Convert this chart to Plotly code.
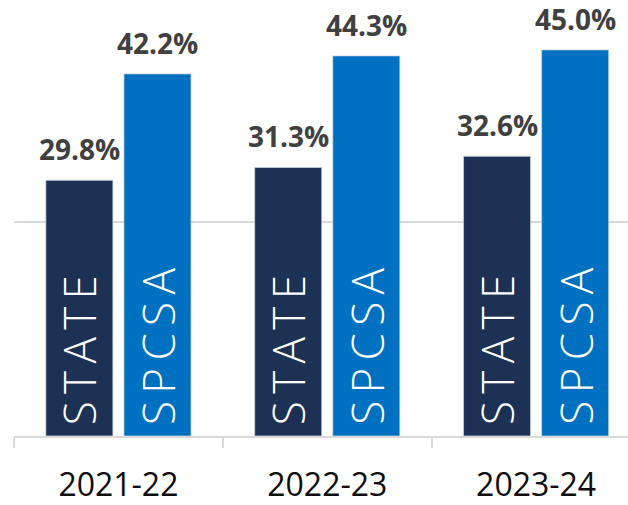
import plotly.graph_objects as go

categories = ["2021-22", "2022-23", "2023-24"]
series_names = ["STATE", "SPCSA"]
state_values = [29.8, 31.3, 32.6]
spcsa_values = [42.2, 44.3, 45.0]

colors = ["#1d3155", "#0070c0"]
offsets = [-0.187, 0.187]
bar_w = 0.321

fig = go.Figure()
xs = list(range(len(categories)))
for name, vals, col, off in zip(series_names, [state_values, spcsa_values], colors, offsets):
    fig.add_trace(go.Bar(
        x=xs, y=vals, name=name,
        offset=off - bar_w / 2, width=bar_w,
        marker=dict(color=col, line=dict(color="#c8d3e0", width=0.75)),
        hoverinfo="skip",
    ))
    for xi, v in zip(xs, vals):
        fig.add_annotation(
            x=xi + off, y=v, xref="x", yref="y",
            text=f"{v:.1f}%", showarrow=False,
            yanchor="bottom", yshift=11, borderpad=0,
            font=dict(family="Open Sans", size=28, color="#404040", weight="bold"),
        )
        spaced = "\u2006".join(list(name))
        fig.add_annotation(
            x=xi + off, y=0, xref="x", yref="y",
            text=spaced, showarrow=False, textangle=-90,
            yanchor="bottom", yshift=9,
            font=dict(family="Open Sans", size=44, color="#ffffff", weight=300),
        )

fig.update_layout(
    width=628, height=505,
    margin=dict(l=14, r=0, t=7, b=66),
    paper_bgcolor="white", plot_bgcolor="white",
    showlegend=False, barmode="overlay",
    xaxis=dict(
        range=[-0.5, 2.44],
        tickmode="array", tickvals=xs, ticktext=categories,
        showgrid=False, zeroline=False,
        showline=True, linecolor="#d9d9d9", linewidth=2,
        ticks="", ticklabelstandoff=20,
        tickfont=dict(family="Open Sans", size=32, color="#0d0d0d"),
    ),
    xaxis2=dict(
        overlaying="x", matches="x", side="bottom",
        tickmode="array", tickvals=[-0.5, 0.5, 1.5, 2.5],
        ticks="outside", ticklen=11, tickwidth=2, tickcolor="#d9d9d9",
        showticklabels=False, showgrid=False, zeroline=False, showline=False,
    ),
    yaxis=dict(
        range=[0, 50], dtick=25, tick0=0,
        showgrid=True, gridcolor="#d9d9d9", gridwidth=2,
        showticklabels=False, zeroline=False, showline=False, ticks="",
    ),
)
fig.add_trace(go.Scatter(x=[0], y=[0], xaxis="x2", mode="markers",
                         marker=dict(opacity=0), hoverinfo="skip", showlegend=False))

fig.write_html("out.html")
